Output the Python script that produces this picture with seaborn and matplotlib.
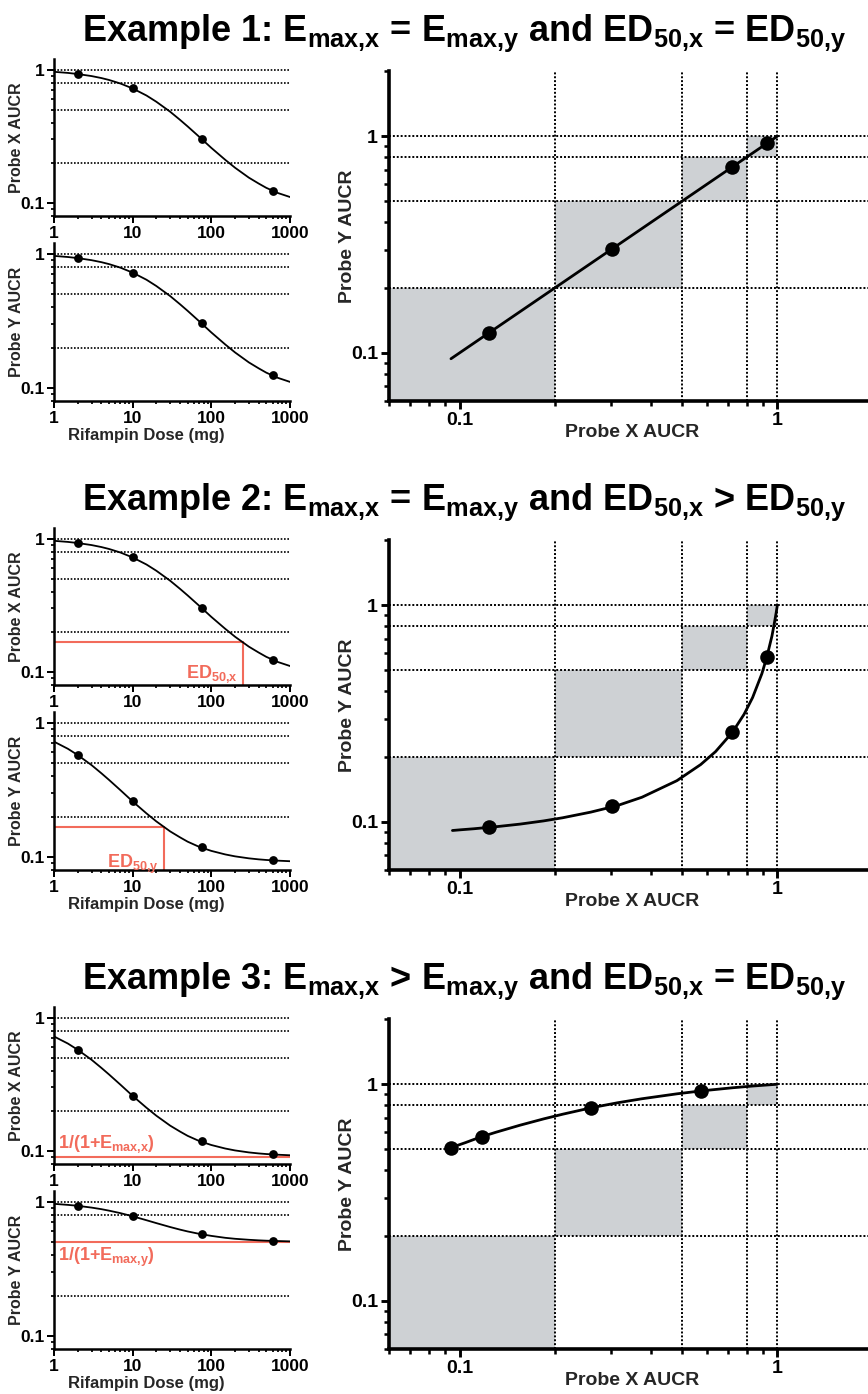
import matplotlib
matplotlib.use("Agg")
import matplotlib.pyplot as plt
import matplotlib.ticker as mticker
from matplotlib import font_manager as fm
import seaborn as sns

# ---------------- data ----------------
dose_grid = [1, 1.5, 2, 3, 4, 5, 7, 10, 15, 20, 30, 40, 50, 70, 100, 150, 200, 300, 400, 500, 700, 1000]
# probe AUCR curves vs rifampin dose
curve_ed250 = [0.962, 0.944, 0.926, 0.894, 0.864, 0.836, 0.786, 0.722, 0.639, 0.574, 0.483, 0.420,
               0.375, 0.314, 0.259, 0.211, 0.184, 0.155, 0.140, 0.130, 0.119, 0.111]
curve_ed25 = [0.722, 0.639, 0.574, 0.483, 0.420, 0.375, 0.314, 0.259, 0.211, 0.184, 0.155, 0.140,
              0.130, 0.119, 0.111, 0.1045, 0.1011, 0.0977, 0.0960, 0.0950, 0.0939, 0.0930]
curve_ed25_lowmax = [0.963, 0.946, 0.931, 0.903, 0.879, 0.857, 0.821, 0.778, 0.727, 0.692, 0.647, 0.619,
                     0.600, 0.576, 0.556, 0.538, 0.529, 0.520, 0.515, 0.512, 0.509, 0.506]

point_doses = [2, 10, 75, 600]
pts_ed250 = [0.926, 0.722, 0.302, 0.124]
pts_ed25 = [0.574, 0.259, 0.118, 0.0943]
pts_ed25_lowmax = [0.931, 0.778, 0.571, 0.510]

ref_levels = [1.0, 0.8, 0.5, 0.2]          # dotted AUCR category boundaries
band_low = [0.06, 0.2, 0.5, 0.8]
band_high = [0.2, 0.5, 0.8, 1.0]

# right-panel (X AUCR vs Y AUCR) curves
ex1_rx = [0.094, 0.111, 0.130, 0.155, 0.184, 0.259, 0.375, 0.483, 0.574, 0.722, 0.836, 0.926, 0.962, 1.0]
ex1_ry = [0.094, 0.111, 0.130, 0.155, 0.184, 0.259, 0.375, 0.483, 0.574, 0.722, 0.836, 0.926, 0.962, 1.0]
ex2_rx = [0.095, 0.101, 0.111, 0.119, 0.130, 0.155, 0.184, 0.211, 0.259, 0.314, 0.375, 0.483, 0.574,
          0.639, 0.722, 0.786, 0.836, 0.894, 0.926, 0.962, 0.980, 0.992, 0.996, 0.998, 1.0]
ex2_ry = [0.0913, 0.0920, 0.0930, 0.0939, 0.0950, 0.0977, 0.1011, 0.1045, 0.111, 0.119, 0.130, 0.155,
          0.184, 0.211, 0.259, 0.314, 0.375, 0.483, 0.574, 0.722, 0.836, 0.926, 0.962, 0.980, 1.0]
ex3_rx = [0.0930, 0.0939, 0.0950, 0.0977, 0.1011, 0.1045, 0.111, 0.119, 0.130, 0.155, 0.184, 0.211,
          0.259, 0.314, 0.375, 0.483, 0.574, 0.722, 0.836, 1.0]
ex3_ry = [0.506, 0.509, 0.512, 0.520, 0.529, 0.538, 0.556, 0.576, 0.600, 0.647, 0.692, 0.727,
          0.778, 0.821, 0.857, 0.903, 0.931, 0.963, 0.981, 1.0]

ed50_x2 = 250
ed50_y2 = 25
ed50_level = 0.167
emax_floor_x3 = 0.0909
emax_floor_y3 = 0.5

titles = [
    r"Example 1: E$_{max{,}x}$ = E$_{max{,}y}$ and ED$_{50{,}x}$ = ED$_{50{,}y}$",
    r"Example 2: E$_{max{,}x}$ = E$_{max{,}y}$ and ED$_{50{,}x}$ > ED$_{50{,}y}$",
    r"Example 3: E$_{max{,}x}$ > E$_{max{,}y}$ and ED$_{50{,}x}$ = ED$_{50{,}y}$",
]

# ---------------- style ----------------
sns.set_theme(style="ticks")
plt.rcParams["font.family"] = ["Liberation Sans", "DejaVu Sans"]
plt.rcParams["font.weight"] = "bold"
plt.rcParams["axes.labelweight"] = "bold"
plt.rcParams["mathtext.default"] = "regular"

names = {f.name for f in fm.fontManager.ttflist}
title_family = ["Liberation Sans Narrow", "Liberation Sans"] if "Liberation Sans Narrow" in names else ["Liberation Sans"]
title_size = 30 if "Liberation Sans Narrow" in names else 26

RED = "#F26B5B"
GREY = "#CED1D4"

W, H = 868, 1394
fig = plt.figure(figsize=(W / 100, H / 100), dpi=100)


def rect(l, t, r, b):
    return [l / W, 1 - b / H, (r - l) / W, (b - t) / H]


def fmt(v, p):
    return f"{v:g}"


def style_axis(ax, lw, lab, majlen, minlen):
    sns.despine(ax=ax)
    for s in ("left", "bottom"):
        ax.spines[s].set_linewidth(lw)
        ax.spines[s].set_color("black")
    ax.tick_params(which="major", direction="out", length=majlen, width=lw * 0.8,
                   labelsize=lab, color="black", labelcolor="black", pad=2)
    ax.tick_params(which="minor", direction="out", length=minlen, width=lw * 0.7, color="black")
    ax.xaxis.set_major_formatter(mticker.FuncFormatter(fmt))
    ax.yaxis.set_major_formatter(mticker.FuncFormatter(fmt))
    ax.xaxis.set_minor_formatter(mticker.NullFormatter())
    ax.yaxis.set_minor_formatter(mticker.NullFormatter())
    for lbl in ax.get_xticklabels() + ax.get_yticklabels():
        lbl.set_fontweight("bold")


def left_panel(ax, curve, pts, ylabel, xlabel=None):
    ax.set_xscale("log")
    ax.set_yscale("log")
    for h in ref_levels:
        ax.axhline(h, color="black", ls=(0, (1, 1)), lw=1.2, zorder=1)
    sns.lineplot(x=dose_grid, y=curve, ax=ax, color="black", linewidth=1.3,
                 estimator=None, sort=False, zorder=3)
    sns.scatterplot(x=point_doses, y=pts, ax=ax, color="black", s=40,
                    linewidth=0, zorder=5, legend=False)
    ax.set_xlim(1, 1000)
    ax.set_ylim(0.08, 1.2)
    ax.set_xticks([1, 10, 100, 1000])
    ax.set_yticks([0.1, 1])
    style_axis(ax, 1.8, 12.5, 5, 2.5)
    ax.set_ylabel(ylabel, fontsize=11.5, fontweight="bold")
    ax.yaxis.set_label_coords(-0.125, 0.5)
    if xlabel:
        ax.set_xlabel(xlabel, fontsize=12, fontweight="bold")
        ax.xaxis.set_label_coords(0.39, -0.17)
    else:
        ax.set_xlabel("")


def right_panel(ax, rx, ry, px, py):
    ax.set_xscale("log")
    ax.set_yscale("log")
    for lo, hi in zip(band_low, band_high):
        ax.fill_between([lo, hi], [lo, lo], [hi, hi], color=GREY, lw=0, zorder=0)
    for v in ref_levels:
        ax.axhline(v, color="black", ls=(0, (1, 1)), lw=1.4, zorder=1)
        ax.axvline(v, color="black", ls=(0, (1, 1)), lw=1.4, zorder=1)
    sns.lineplot(x=rx, y=ry, ax=ax, color="black", linewidth=2.0,
                 estimator=None, sort=False, zorder=3)
    sns.scatterplot(x=px, y=py, ax=ax, color="black", s=110,
                    linewidth=0, zorder=5, legend=False)
    ax.set_xlim(0.06, 2)
    ax.set_ylim(0.06, 2)
    ax.set_xticks([0.1, 1])
    ax.set_yticks([0.1, 1])
    style_axis(ax, 2.6, 14, 6, 3.5)
    ax.set_xlabel("Probe X AUCR", fontsize=14, fontweight="bold")
    ax.set_ylabel("Probe Y AUCR", fontsize=14, fontweight="bold")
    ax.xaxis.set_label_coords(0.502, -0.07)
    ax.yaxis.set_label_coords(-0.068, 0.5)


offsets = [0, 469, 948]
left_x = [curve_ed250, curve_ed250, curve_ed25]
left_y = [curve_ed250, curve_ed25, curve_ed25_lowmax]
pts_x = [pts_ed250, pts_ed250, pts_ed25]
pts_y = [pts_ed250, pts_ed25, pts_ed25_lowmax]
right_curves = [(ex1_rx, ex1_ry), (ex2_rx, ex2_ry), (ex3_rx, ex3_ry)]

for i, off in enumerate(offsets):
    fig.text(464 / W, 1 - (33 + off) / H, titles[i], ha="center", va="center",
             fontsize=title_size, fontweight="bold", family=title_family, color="black")

    ax_top = fig.add_axes(rect(54, 59 + off, 290, 216 + off))
    left_panel(ax_top, left_x[i], pts_x[i], "Probe X AUCR")
    ax_bot = fig.add_axes(rect(54, 243 + off, 290, 401 + off))
    left_panel(ax_bot, left_y[i], pts_y[i], "Probe Y AUCR", "Rifampin Dose (mg)")

    ax_r = fig.add_axes(rect(389, 71 + off, 873, 401 + off))
    right_panel(ax_r, right_curves[i][0], right_curves[i][1], pts_x[i], pts_y[i])

    if i == 1:
        ax_top.plot([1, ed50_x2], [ed50_level, ed50_level], color=RED, lw=1.5, zorder=2)
        ax_top.plot([ed50_x2, ed50_x2], [0.08, ed50_level], color=RED, lw=1.5, zorder=2)
        ax_top.text(ed50_x2 * 0.87, 0.097, r"ED$_{50{,}x}$", color=RED, ha="right", va="center",
                    fontsize=13, fontweight="bold")
        ax_bot.plot([1, ed50_y2], [ed50_level, ed50_level], color=RED, lw=1.5, zorder=2)
        ax_bot.plot([ed50_y2, ed50_y2], [0.08, ed50_level], color=RED, lw=1.5, zorder=2)
        ax_bot.text(ed50_y2 * 0.85, 0.088, r"ED$_{50{,}y}$", color=RED, ha="right", va="center",
                    fontsize=13, fontweight="bold")
    if i == 2:
        ax_top.axhline(emax_floor_x3, color=RED, lw=1.5, zorder=2)
        ax_top.text(1.13, 0.094, r"1/(1+E$_{max{,}x}$)", color=RED, ha="left", va="bottom",
                    fontsize=13, fontweight="bold")
        ax_bot.axhline(emax_floor_y3, color=RED, lw=1.5, zorder=2)
        ax_bot.text(1.13, 0.47, r"1/(1+E$_{max{,}y}$)", color=RED, ha="left", va="top",
                    fontsize=13, fontweight="bold")

fig.savefig("out.png", dpi=100)
